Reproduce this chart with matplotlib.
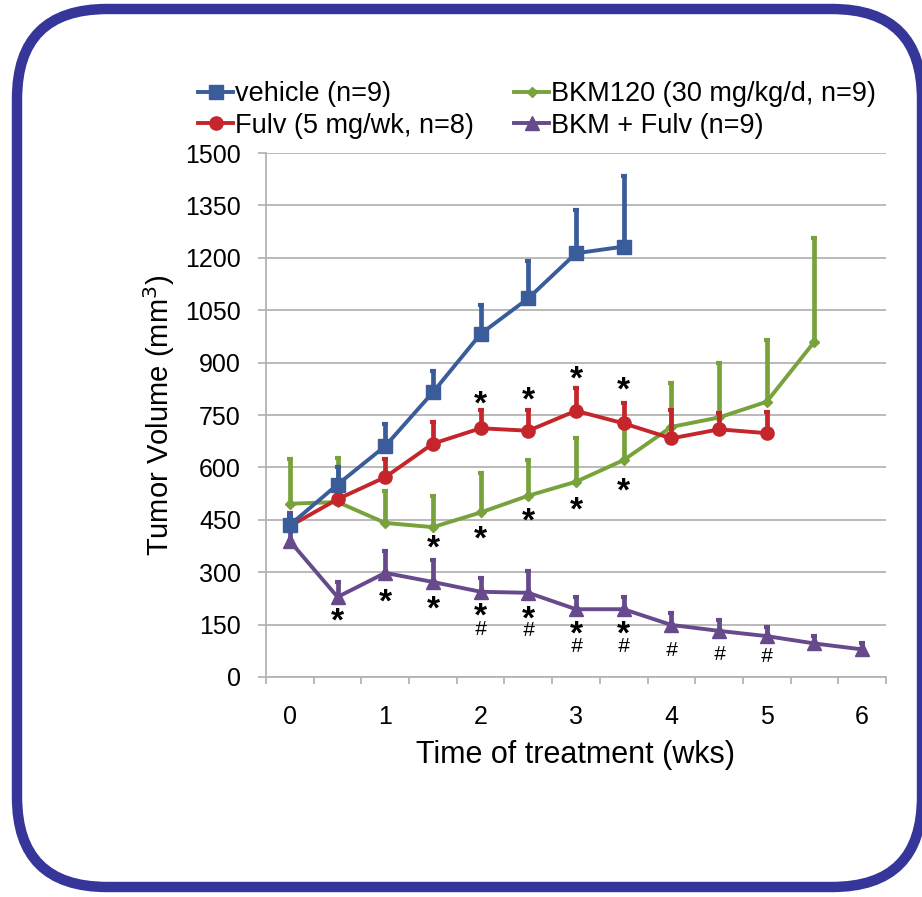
import matplotlib
matplotlib.use('agg')
from matplotlib import pyplot as plt
from matplotlib import transforms as mtransforms
from matplotlib.patches import FancyBboxPatch
from matplotlib.ticker import MultipleLocator, FixedLocator
import numpy as np

plt.rcParams['font.family'] = ['Liberation Sans', 'DejaVu Sans']

# Time points (weeks)
weeks = [0, 0.5, 1, 1.5, 2, 2.5, 3, 3.5, 4, 4.5, 5, 5.5, 6]

# Mean tumour volume (mm3) and upper SEM for each group
vehicle = [435, 551, 661, 815, 982, 1084, 1213, 1232]
vehicle_err = [25, 50, 64, 62, 84, 108, 125, 201]

fulv = [432, 509, 572, 668, 712, 705, 762, 726, 683, 709, 698]
fulv_err = [20, 40, 51, 63, 52, 59, 64, 59, 81, 48, 61]

bkm = [496, 501, 441, 429, 471, 519, 559, 621, 716, 743, 788, 960]
bkm_err = [129, 127, 91, 89, 112, 102, 124, 94, 125, 155, 177, 296]

combo = [389, 229, 298, 272, 244, 241, 194, 194, 149, 132, 117, 96, 79]
combo_err = [81, 43, 63, 64, 38, 62, 34, 36, 33, 31, 27, 21, 18]

# Significance marks (position in data units)
fulv_star_x = [2, 2.5, 3, 3.5]
fulv_star_y = [804, 814, 874, 845]
bkm_star_x = [1.5, 2, 2.5, 3, 3.5]
bkm_star_y = [392, 416, 469, 499, 554]
combo_star_x = [0.5, 1, 1.5, 2, 2.5, 3, 3.5]
combo_star_y = [182, 238, 216, 197, 187, 146, 144]
combo_hash_x = [2, 2.5, 3, 3.5, 4, 4.5, 5]
combo_hash_y = [144, 141, 96, 96, 84, 72, 66]

labels = ['vehicle (n=9)', 'Fulv (5 mg/wk, n=8)',
          'BKM120 (30 mg/kg/d, n=9)', 'BKM + Fulv (n=9)']

W, H = 922, 897
fig = plt.figure(figsize=(W / 100, H / 100), dpi=100)
ax = fig.add_axes([266 / W, 1 - 677 / H, 620 / W, 524 / H])

series = [
    (vehicle, vehicle_err, '#3A5C9B', 's', 9.5, 5),
    (fulv, fulv_err, '#C4262B', 'o', 9.5, 4),
    (bkm, bkm_err, '#77A23C', 'D', 5.5, 3),
    (combo, combo_err, '#664A8C', '^', 10, 2),
]

handles = []
for y, err, color, marker, ms, z in series:
    x = weeks[:len(y)]
    ax.errorbar(x, y, yerr=[np.zeros(len(err)), err], fmt='none',
                ecolor=color, elinewidth=3.4, capsize=2.5, capthick=3,
                zorder=z)
    line, = ax.plot(x, y, color=color, lw=2.8, marker=marker, ms=ms,
                    mec=color, mfc=color, zorder=z + 0.5)
    handles.append(line)

star_fs = 24
hash_fs = 15


def mark(xs, ys, s, fs, dy):
    for x, y in zip(xs, ys):
        ax.annotate(s, (x, y), xytext=(0, dy), textcoords='offset points',
                    ha='center', va='baseline', fontsize=fs, color='black',
                    fontstyle='italic' if s == '#' else 'normal',
                    fontweight='bold' if s == '*' else 'normal',
                    zorder=10)


mark(fulv_star_x, fulv_star_y, '*', star_fs, -0.52 * star_fs)
mark(bkm_star_x, bkm_star_y, '*', star_fs, -0.52 * star_fs)
mark(combo_star_x, combo_star_y, '*', star_fs, -0.52 * star_fs)
mark(combo_hash_x, combo_hash_y, '#', hash_fs, -0.4 * hash_fs)

ax.set_xlim(-0.25, 6.25)
ax.set_ylim(0, 1500)
ax.yaxis.set_major_locator(MultipleLocator(150))
ax.xaxis.set_major_locator(FixedLocator(range(7)))
ax.xaxis.set_minor_locator(FixedLocator(np.arange(-0.25, 6.3, 0.5)))
ax.grid(axis='y', color='#b4b4b4', lw=1.3)
ax.set_axisbelow(True)
for side in ('top', 'right'):
    ax.spines[side].set_visible(False)
for side in ('left', 'bottom'):
    ax.spines[side].set_color('#b4b4b4')
    ax.spines[side].set_linewidth(1.3)
ax.tick_params(axis='y', which='major', direction='out', length=6,
               color='#b4b4b4', width=1.3, labelsize=18, pad=12)
ax.tick_params(axis='x', which='major', length=0, labelsize=18, pad=20)
ax.tick_params(axis='x', which='minor', direction='out', length=5,
               color='#b4b4b4', width=1.3)

ax.set_xlabel('Time of treatment (wks)', fontsize=22, labelpad=8)
ax.set_ylabel('Tumor Volume (mm$^3$)', fontsize=21, labelpad=6)

fig.legend([handles[0], handles[1], handles[2], handles[3]], labels,
           ncol=2, loc='upper left', bbox_to_anchor=(198 / W, 1 - 81 / H),
           frameon=False, fontsize=19.5, borderpad=0, borderaxespad=0,
           handlelength=1.3, handletextpad=0.05, columnspacing=1.5,
           labelspacing=0.22)

border = FancyBboxPatch((17, 10), 905, 878,
                        boxstyle='round,pad=0,rounding_size=90',
                        transform=mtransforms.IdentityTransform(),
                        fill=False, edgecolor='#35359A', lw=7.5)
fig.patches.append(border)

fig.savefig('out.png', dpi=100)
